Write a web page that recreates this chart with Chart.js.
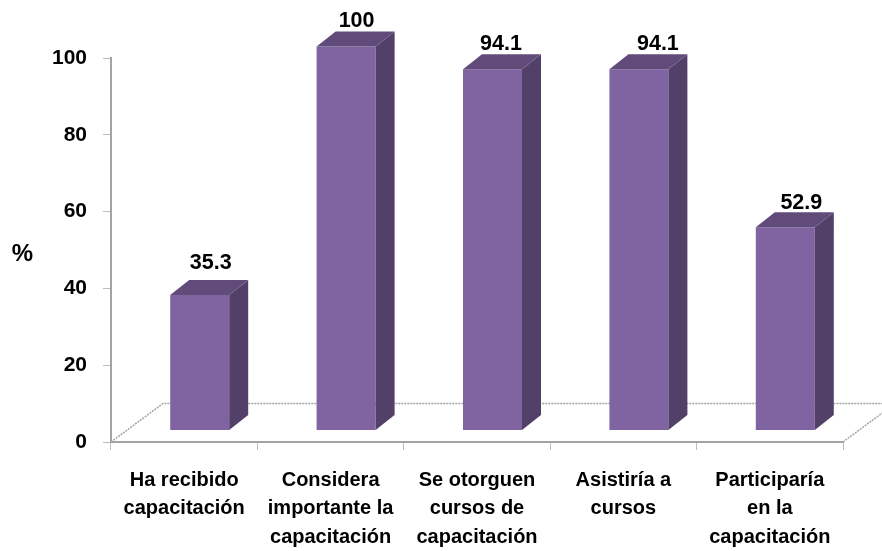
<!DOCTYPE html>
<html>
<head>
<meta charset="utf-8">
<title>Capacitación</title>
<script src="https://cdn.jsdelivr.net/npm/chart.js@4/dist/chart.umd.min.js"></script>
<style>
  html, body { margin: 0; padding: 0; background: #fff; }
  canvas { display: block; }
</style>
</head>
<body>
<canvas id="chart" width="882" height="551"></canvas>
<script>
const categories = [
  ["Ha recibido", "capacitación"],
  ["Considera", "importante la", "capacitación"],
  ["Se otorguen", "cursos de", "capacitación"],
  ["Asistiría a", "cursos"],
  ["Participaría", "en la", "capacitación"],
];
const values = [35.3, 100, 94.1, 94.1, 52.9];
const valueLabels = ["35.3", "100", "94.1", "94.1", "52.9"];
const yTicks = [0, 20, 40, 60, 80, 100];

const FONT = '"Liberation Sans", Arial, sans-serif';
const FRONT = "#8064a2";
const SIDE = "#534068";
const TOP = "#604b7a";
const AXIS = "#a3a3a3";

// the columns stand on the floor, a little in from the front edge
const BAR_SHIFT_X = 15.5;
const BAR_SHIFT_Y = -11.5;
const DEPTH_X = 19;
const DEPTH_Y = -15;
// full depth of the floor
const FLOOR_X = 52;
const FLOOR_Y = -38.5;

// hand placed value labels, measured from the middle of each column's front top edge
const LABEL_DX = [11, 10.5, 8.5, 19, 16];
const LABEL_DY = [-31.5, -25.5, -25, -25, -24.5];

function face(ctx, color, pts) {
  ctx.fillStyle = color;
  ctx.beginPath();
  ctx.moveTo(pts[0][0], pts[0][1]);
  pts.slice(1).forEach((p) => ctx.lineTo(p[0], p[1]));
  ctx.closePath();
  ctx.fill();
}

const floorPlugin = {
  id: "floor",
  beforeDatasetsDraw(chart) {
    const { ctx, chartArea: a } = chart;
    const backY = a.bottom + FLOOR_Y;
    ctx.save();
    ctx.strokeStyle = AXIS;
    ctx.lineWidth = 1.5;
    ctx.setLineDash([2, 1]);
    ctx.beginPath();
    ctx.moveTo(a.left, a.bottom);
    ctx.lineTo(a.left + FLOOR_X, backY);
    ctx.lineTo(chart.width, backY);
    ctx.moveTo(a.right, a.bottom);
    ctx.lineTo(a.right + FLOOR_X, backY);
    ctx.stroke();
    ctx.restore();
  },
};

// side and top faces go on after the front, all shifted onto the floor
const columnPlugin = {
  id: "column",
  beforeDatasetDraw(chart) {
    chart.ctx.save();
    chart.ctx.translate(BAR_SHIFT_X, BAR_SHIFT_Y);
  },
  afterDatasetDraw(chart, args) {
    const { ctx } = chart;
    args.meta.data.forEach((bar) => {
      const { x, y, base, width } = bar.getProps(["x", "y", "base", "width"], true);
      const l = x - width / 2;
      const r = x + width / 2;
      face(ctx, SIDE, [[r, y], [r + DEPTH_X, y + DEPTH_Y], [r + DEPTH_X, base + DEPTH_Y], [r, base]]);
      face(ctx, TOP, [[l, y], [l + DEPTH_X, y + DEPTH_Y], [r + DEPTH_X, y + DEPTH_Y], [r, y]]);
    });
    ctx.restore();
  },
  afterDatasetsDraw(chart) {
    const { ctx } = chart;
    const meta = chart.getDatasetMeta(0);
    ctx.save();
    ctx.fillStyle = "#000";
    ctx.font = "bold 21.5px " + FONT;
    ctx.textAlign = "center";
    ctx.textBaseline = "middle";
    meta.data.forEach((bar, i) => {
      const topMiddleX = bar.x + BAR_SHIFT_X;
      const topMiddleY = bar.y + BAR_SHIFT_Y;
      ctx.fillText(valueLabels[i], topMiddleX + LABEL_DX[i], topMiddleY + LABEL_DY[i]);
    });
    ctx.font = "bold 24px " + FONT;
    ctx.fillText("%", 22.5, 254);
    ctx.restore();
  },
};

new Chart(document.getElementById("chart"), {
  type: "bar",
  data: {
    labels: categories,
    datasets: [{
      data: values,
      backgroundColor: FRONT,
      borderWidth: 0,
      barPercentage: 0.403,
      categoryPercentage: 1,
      clip: false,
    }],
  },
  options: {
    responsive: false,
    animation: false,
    layout: { padding: { top: 58, right: 39, left: 0, bottom: 0 } },
    plugins: { legend: { display: false }, tooltip: { enabled: false }, title: { display: false } },
    scales: {
      x: {
        afterFit(scale) { scale.height = 109; },
        grid: { drawOnChartArea: false, tickLength: 8, tickColor: "#bdbdbd", offset: true },
        border: { color: AXIS, width: 2, dash: [1, 1] },
        ticks: {
          color: "#000",
          maxRotation: 0,
          autoSkip: false,
          padding: 16,
          font: { family: FONT, size: 20, weight: "bold", lineHeight: 1.43 },
        },
      },
      y: {
        min: 0,
        max: 100,
        afterFit(scale) { scale.width = 111; },
        afterBuildTicks(scale) { scale.ticks = yTicks.map((value) => ({ value })); },
        grid: { drawOnChartArea: false, tickLength: 8, tickColor: "#bdbdbd" },
        border: { color: AXIS, width: 2, dash: [1, 1] },
        ticks: {
          color: "#000",
          padding: 16,
          font: { family: FONT, size: 21, weight: "bold" },
        },
      },
    },
  },
  plugins: [floorPlugin, columnPlugin],
});
</script>
</body>
</html>
